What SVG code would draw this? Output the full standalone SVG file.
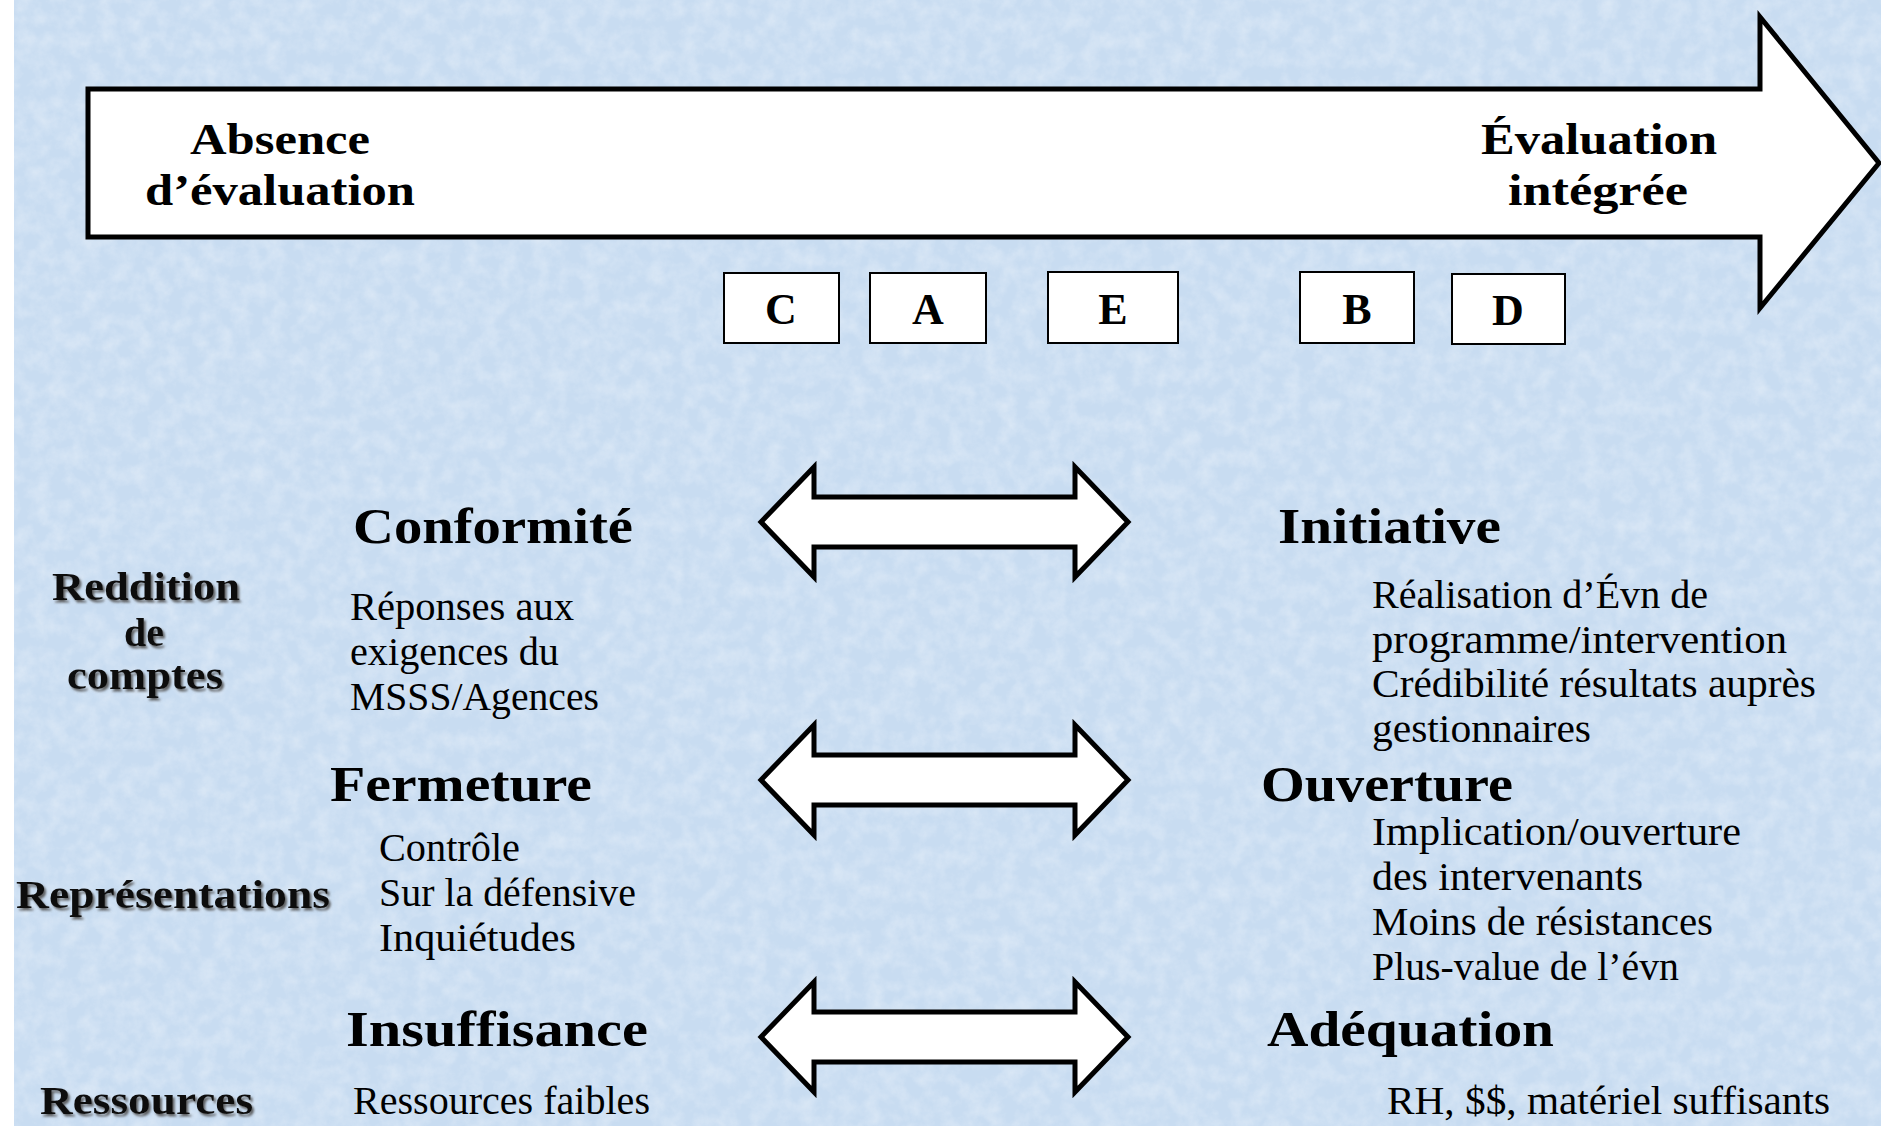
<svg xmlns="http://www.w3.org/2000/svg" width="1881" height="1126" viewBox="0 0 1881 1126">
  <defs>
    <filter id="grain" x="0" y="0" width="100%" height="100%">
      <feTurbulence type="fractalNoise" baseFrequency="0.06" numOctaves="4" seed="11"/>
      <feColorMatrix type="matrix" values="0 0 0 0 1  0 0 0 0 1  0 0 0 0 1  0 0 0 1.6 -0.55"/>
    </filter>
    <filter id="shadow" x="-10%" y="-30%" width="120%" height="160%">
      <feDropShadow dx="2" dy="2.5" stdDeviation="1" flood-color="#555" flood-opacity="0.9"/>
    </filter>
    <style>
      .bg { fill: #c8dcf1; }
      .shape { fill: #ffffff; stroke: #000; stroke-width: 5; stroke-linejoin: miter; }
      .box { fill: #ffffff; stroke: #000; stroke-width: 2; }
      .title { font-family: "Liberation Serif", "Times New Roman", serif; font-weight: bold; font-size: 44px; fill: #000; }
      .letter { font-family: "Liberation Serif", "Times New Roman", serif; font-weight: bold; font-size: 44px; fill: #000; text-anchor: middle; }
      .head { font-family: "Liberation Serif", "Times New Roman", serif; font-weight: bold; font-size: 50px; fill: #000; }
      .body { font-family: "Liberation Serif", "Times New Roman", serif; font-size: 40px; fill: #000; }
      .side { font-family: "Liberation Serif", "Times New Roman", serif; font-weight: bold; font-size: 40px; fill: #111; filter: url(#shadow); }
    </style>
  </defs>

  <!-- textured blue page -->
  <rect x="0" y="0" width="1881" height="1126" fill="#ffffff"/>
  <rect class="bg" x="14" y="0" width="1867" height="1126"/>
  <rect x="14" y="0" width="1867" height="1126" filter="url(#grain)" opacity="0.35"/>

  <!-- progression arrow -->
  <g id="scale-arrow">
    <polygon class="shape" points="88,89 1760,89 1760,17 1879,163 1760,308 1760,237 88,237"/>
    <text class="title" x="190" y="154" textLength="180" lengthAdjust="spacingAndGlyphs">Absence</text>
    <text class="title" x="145" y="205" textLength="270" lengthAdjust="spacingAndGlyphs">d’évaluation</text>
    <text class="title" x="1481" y="154" textLength="236" lengthAdjust="spacingAndGlyphs">Évaluation</text>
    <text class="title" x="1508" y="205" textLength="180" lengthAdjust="spacingAndGlyphs">intégrée</text>
  </g>

  <!-- positions on the scale -->
  <g id="box-C">
    <rect class="box" x="724" y="273" width="115" height="70"/>
    <text class="letter" x="781" y="324">C</text>
  </g>
  <g id="box-A">
    <rect class="box" x="870" y="273" width="116" height="70"/>
    <text class="letter" x="928" y="324">A</text>
  </g>
  <g id="box-E">
    <rect class="box" x="1048" y="272" width="130" height="71"/>
    <text class="letter" x="1113" y="324">E</text>
  </g>
  <g id="box-B">
    <rect class="box" x="1300" y="272" width="114" height="71"/>
    <text class="letter" x="1357" y="324">B</text>
  </g>
  <g id="box-D">
    <rect class="box" x="1452" y="274" width="113" height="70"/>
    <text class="letter" x="1508" y="325">D</text>
  </g>

  <!-- row labels -->
  <g id="label-reddition">
    <text class="side" x="52" y="600" textLength="188" lengthAdjust="spacingAndGlyphs">Reddition</text>
    <text class="side" x="144" y="646" text-anchor="middle">de</text>
    <text class="side" x="67" y="689" textLength="156" lengthAdjust="spacingAndGlyphs">comptes</text>
  </g>
  <g id="label-representations">
    <text class="side" x="16" y="908" textLength="314" lengthAdjust="spacingAndGlyphs">Représentations</text>
  </g>
  <g id="label-ressources">
    <text class="side" x="40" y="1114" textLength="213" lengthAdjust="spacingAndGlyphs">Ressources</text>
  </g>

  <!-- left column -->
  <g id="conformite">
    <text class="head" x="353" y="543" textLength="280" lengthAdjust="spacingAndGlyphs">Conformité</text>
    <text class="body" x="350" y="620" textLength="224" lengthAdjust="spacingAndGlyphs">Réponses aux</text>
    <text class="body" x="350" y="665" textLength="209" lengthAdjust="spacingAndGlyphs">exigences du</text>
    <text class="body" x="350" y="710" textLength="249" lengthAdjust="spacingAndGlyphs">MSSS/Agences</text>
  </g>
  <g id="fermeture">
    <text class="head" x="330" y="801" textLength="262" lengthAdjust="spacingAndGlyphs">Fermeture</text>
    <text class="body" x="379" y="861" textLength="141" lengthAdjust="spacingAndGlyphs">Contrôle</text>
    <text class="body" x="379" y="906" textLength="257" lengthAdjust="spacingAndGlyphs">Sur la défensive</text>
    <text class="body" x="379" y="951" textLength="197" lengthAdjust="spacingAndGlyphs">Inquiétudes</text>
  </g>
  <g id="insuffisance">
    <text class="head" x="346" y="1046" textLength="302" lengthAdjust="spacingAndGlyphs">Insuffisance</text>
    <text class="body" x="353" y="1114" textLength="297" lengthAdjust="spacingAndGlyphs">Ressources faibles</text>
  </g>

  <!-- right column -->
  <g id="initiative">
    <text class="head" x="1278" y="543" textLength="223" lengthAdjust="spacingAndGlyphs">Initiative</text>
    <text class="body" x="1372" y="608" textLength="336" lengthAdjust="spacingAndGlyphs">Réalisation d’Évn de</text>
    <text class="body" x="1372" y="653" textLength="415" lengthAdjust="spacingAndGlyphs">programme/intervention</text>
    <text class="body" x="1372" y="697" textLength="444" lengthAdjust="spacingAndGlyphs">Crédibilité résultats auprès</text>
    <text class="body" x="1372" y="742" textLength="219" lengthAdjust="spacingAndGlyphs">gestionnaires</text>
  </g>
  <g id="ouverture">
    <text class="head" x="1261" y="801" textLength="252" lengthAdjust="spacingAndGlyphs">Ouverture</text>
    <text class="body" x="1372" y="845" textLength="369" lengthAdjust="spacingAndGlyphs">Implication/ouverture</text>
    <text class="body" x="1372" y="890" textLength="271" lengthAdjust="spacingAndGlyphs">des intervenants</text>
    <text class="body" x="1372" y="935" textLength="341" lengthAdjust="spacingAndGlyphs">Moins de résistances</text>
    <text class="body" x="1372" y="980" textLength="307" lengthAdjust="spacingAndGlyphs">Plus-value de l’évn</text>
  </g>
  <g id="adequation">
    <text class="head" x="1267" y="1046" textLength="287" lengthAdjust="spacingAndGlyphs">Adéquation</text>
    <text class="body" x="1387" y="1114" textLength="443" lengthAdjust="spacingAndGlyphs">RH, $$, matériel suffisants</text>
  </g>

  <!-- two-way arrows between opposite poles -->
  <g id="connectors">
    <polygon class="shape" points="761,522 814,467 814,497 1075,497 1075,467 1128,522 1075,577 1075,547 814,547 814,577"/>
    <polygon class="shape" points="761,780 814,725 814,755 1075,755 1075,725 1128,780 1075,835 1075,805 814,805 814,835"/>
    <polygon class="shape" points="761,1037 814,982 814,1012 1075,1012 1075,982 1128,1037 1075,1092 1075,1062 814,1062 814,1092"/>
  </g>
</svg>
